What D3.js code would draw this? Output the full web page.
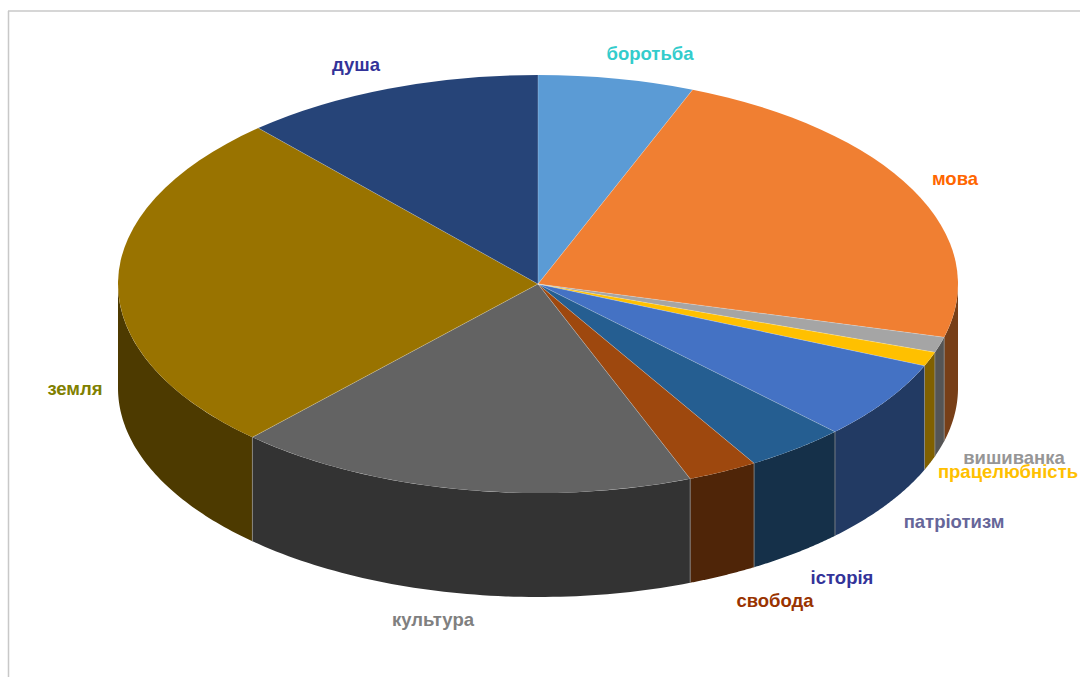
<!DOCTYPE html>
<html>
<head>
<meta charset="utf-8">
<script src="https://cdn.jsdelivr.net/npm/d3@7"></script>
<style>
    html, body { margin: 0; padding: 0; background: #fff; overflow: hidden; }
    text { font-family: "Liberation Sans", Arial, sans-serif; font-weight: bold; }
</style>
</head>
<body>
<svg id="chart" width="1080" height="677"></svg>
<script>
// slice names, clockwise from the top
const categories = ["боротьба", "мова", "вишиванка", "працелюбність", "патріотизм",
    "історія", "свобода", "культура", "земля", "душа"];
// share of the pie in percent
const shares = [6.0, 23.1, 1.2, 1.1, 6.1, 3.9, 2.7, 17.8, 26.5, 11.6];
const topColors = ["#5b9bd5", "#f07f32", "#a5a5a5", "#ffc000", "#4472c4",
    "#255e91", "#9e480e", "#636363", "#997300", "#264478"];
const sideColors = ["#2e4e6b", "#773f18", "#555555", "#806000", "#223a63",
    "#153049", "#4f2508", "#333333", "#4d3a00", "#13223c"];
const labelColors = ["#33cccc", "#ff6600", "#969696", "#ffc000", "#666699",
    "#333399", "#993300", "#808080", "#808000", "#333399"];

// set the dimensions of the pie
const cx = 538, cy = 284, rx = 420, ry = 209, depth = 104;

// label anchor points, same order as categories
const labelPos = [[650, 60], [955, 185], [1014, 464], [1008, 478], [954, 528],
    [842, 584], [775, 607], [433, 626], [75, 395], [356, 71]];

const svg = d3.select("#chart");

// chart frame, only the top and left edges are in the picture
svg.append("line").attr("x1", 8).attr("y1", 11).attr("x2", 1080).attr("y2", 11)
    .attr("stroke", "#c8c8c8").attr("stroke-width", 1.5);
svg.append("line").attr("x1", 8.5).attr("y1", 11).attr("x2", 8.5).attr("y2", 677)
    .attr("stroke", "#c8c8c8").attr("stroke-width", 1.5);

const pie = d3.pie().sort(null).value(function(d) { return d; });
const arcs = pie(shares);

// point on the top ellipse, angle clockwise from 12 o'clock
function ellipse(a, dy)
{
    return [cx + rx * Math.sin(a), cy - ry * Math.cos(a) + dy];
}

const line = d3.line();

// side wall, only the part of a slice on the front half of the ellipse
function wall(d)
{
    const a0 = Math.max(d.startAngle, Math.PI / 2);
    const a1 = Math.min(d.endAngle, Math.PI * 1.5);
    if(a1 <= a0) return null;
    const steps = d3.range(0, 61).map(function(i) { return a0 + (a1 - a0) * i / 60; });
    const upper = steps.map(function(a) { return ellipse(a, 0); });
    const lower = steps.slice().reverse().map(function(a) { return ellipse(a, depth); });
    return line(upper.concat(lower)) + "Z";
}

svg.append("g").selectAll("path")
    .data(arcs)
    .enter().append("path")
    .attr("d", wall)
    .attr("fill", function(d, i) { return sideColors[i]; });

// light seams between the walls
svg.append("g").selectAll("line")
    .data(arcs.filter(function(d) { return d.endAngle > Math.PI / 2 && d.endAngle < Math.PI * 1.5; }))
    .enter().append("line")
    .attr("x1", function(d) { return ellipse(d.endAngle, 0)[0]; })
    .attr("y1", function(d) { return ellipse(d.endAngle, 0)[1]; })
    .attr("x2", function(d) { return ellipse(d.endAngle, depth)[0]; })
    .attr("y2", function(d) { return ellipse(d.endAngle, depth)[1]; })
    .attr("stroke", "#8c8c8c")
    .attr("stroke-width", 0.8);

// top face, circle arcs squashed into the ellipse
const arc = d3.arc().innerRadius(0).outerRadius(rx);
svg.append("g")
    .attr("transform", "translate(" + cx + "," + cy + ") scale(1," + (ry / rx) + ")")
    .selectAll("path")
    .data(arcs)
    .enter().append("path")
    .attr("d", arc)
    .attr("fill", function(d, i) { return topColors[i]; });

// thin seams on the top face
svg.append("g").selectAll("line")
    .data(arcs)
    .enter().append("line")
    .attr("x1", cx)
    .attr("y1", cy)
    .attr("x2", function(d) { return ellipse(d.startAngle, 0)[0]; })
    .attr("y2", function(d) { return ellipse(d.startAngle, 0)[1]; })
    .attr("stroke", "#ffffff")
    .attr("stroke-opacity", 0.35)
    .attr("stroke-width", 0.7);

svg.append("g").selectAll("text")
    .data(categories)
    .enter().append("text")
    .attr("x", function(d, i) { return labelPos[i][0]; })
    .attr("y", function(d, i) { return labelPos[i][1]; })
    .attr("text-anchor", "middle")
    .attr("font-size", 18.5)
    .attr("fill", function(d, i) { return labelColors[i]; })
    .text(function(d) { return d; });
</script>
</body>
</html>
